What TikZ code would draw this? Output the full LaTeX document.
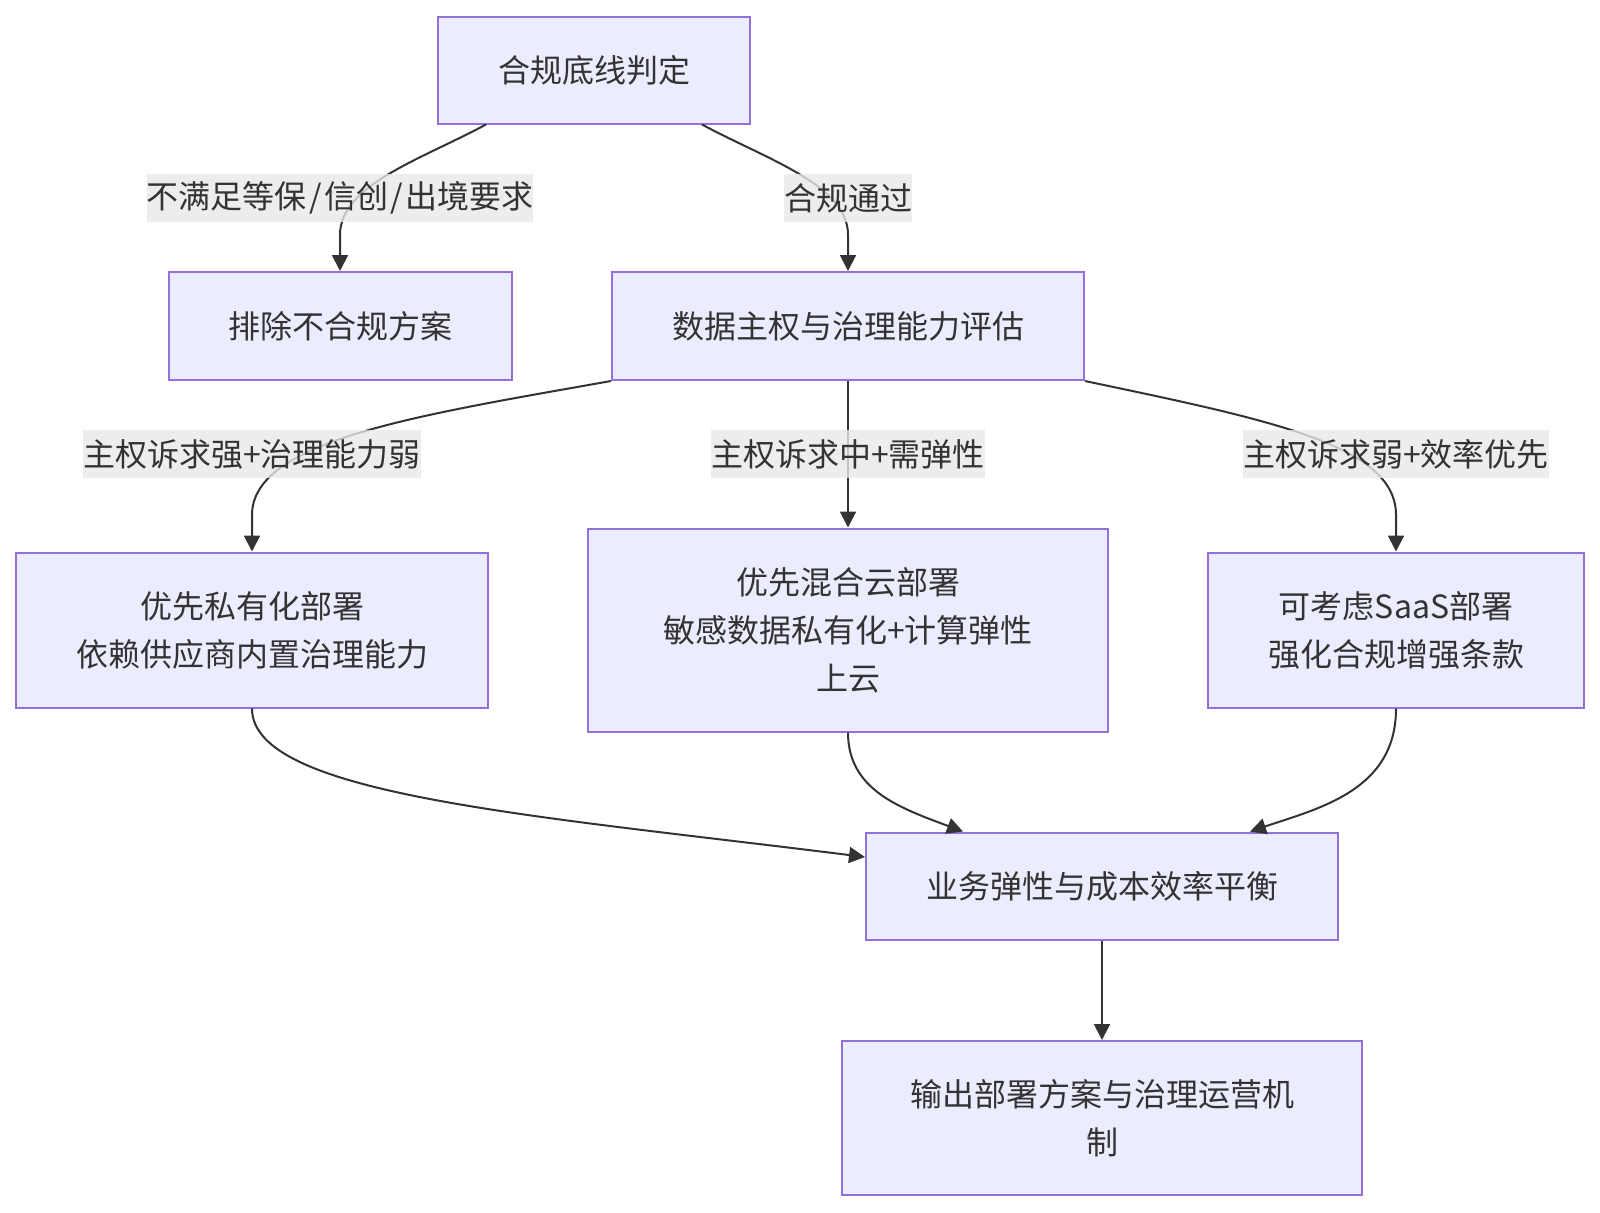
\documentclass[tikz,border=0pt]{standalone}
\usepackage{fontspec}
\setmainfont{Noto Sans CJK SC}
\usetikzlibrary{arrows.meta}
\definecolor{nodefill}{HTML}{ECECFF}
\definecolor{nodedraw}{HTML}{9370DB}
\definecolor{ink}{HTML}{333333}
\definecolor{lblbg}{HTML}{E8E8E8}
\newcommand{\slsh}{\kern1.2pt/\kern1.2pt}
\begin{document}
\begin{tikzpicture}[x=0.5pt,y=-0.5pt,
  box/.style={draw=nodedraw, fill=nodefill, line width=1pt, align=center, text=ink,
    font=\fontsize{16pt}{24pt}\selectfont, inner sep=0pt},
  edge/.style={draw=ink, line width=1pt, -{Triangle[length=8pt,width=8pt]}},
  lbl/.style={fill=lblbg, fill opacity=0.8, text opacity=1, text=ink, inner xsep=0pt,
    inner ysep=0pt, minimum height=24pt, font=\fontsize{16pt}{24pt}\selectfont}]
\useasboundingbox (0,0) rectangle (1600,1212);
\node[box, minimum width=156pt, minimum height=53.5pt] (A) at (594,70) {合规底线判定};
\node[box, minimum width=171.5pt, minimum height=54pt] (B) at (340,326) {排除不合规方案};
\node[box, minimum width=236pt, minimum height=54pt] (C) at (848,326) {数据主权与治理能力评估};
\node[box, minimum width=236pt, minimum height=77.5pt] (D) at (252,630) {优先私有化部署\\依赖供应商内置治理能力};
\node[box, minimum width=260pt, minimum height=101.5pt] (E) at (848,630) {优先混合云部署\\敏感数据私有化+计算弹性\\上云};
\node[box, minimum width=188pt, minimum height=77.5pt] (F) at (1396,630) {可考虑SaaS部署\\强化合规增强条款};
\node[box, minimum width=236pt, minimum height=53.5pt] (G) at (1102,886) {业务弹性与成本效率平衡};
\node[box, minimum width=260pt, minimum height=77pt] (H) at (1102,1118) {输出部署方案与治理运营机\\制};
\draw[edge] ([xshift=-54pt]A.south) .. controls (420,160) and (340,185) .. (340,235) -- (B.north);
\draw[edge] ([xshift=54pt]A.south) .. controls (768,160) and (848,185) .. (848,235) -- (C.north);
\draw[edge] (C.south west) .. controls (420,415) and (252,440) .. (252,515) -- (D.north);
\draw[edge] (C.south) -- (E.north);
\draw[edge] (C.south east) .. controls (1270,420) and (1396,445) .. (1396,515) -- (F.north);
\draw[edge] (D.south) .. controls (252,795) and (530,815) .. ([yshift=14.5pt]G.west);
\draw[edge] (E.south) .. controls (848,790) and (900,808) .. ([xshift=-69.5pt]G.north);
\draw[edge] (F.south) .. controls (1396,790) and (1320,808) .. ([xshift=74pt]G.north);
\draw[edge] (G.south) -- (H.north);
\node[lbl] (l1) at (340,198) {不满足等保\slsh 信创\slsh 出境要求};
\node[lbl] (l2) at (848,198) {合规通过};
\node[lbl] (l3) at (252,454) {主权诉求强+治理能力弱};
\node[lbl] (l4) at (848,454) {主权诉求中+需弹性};
\node[lbl] (l5) at (1396,454) {主权诉求弱+效率优先};
\end{tikzpicture}
\end{document}
